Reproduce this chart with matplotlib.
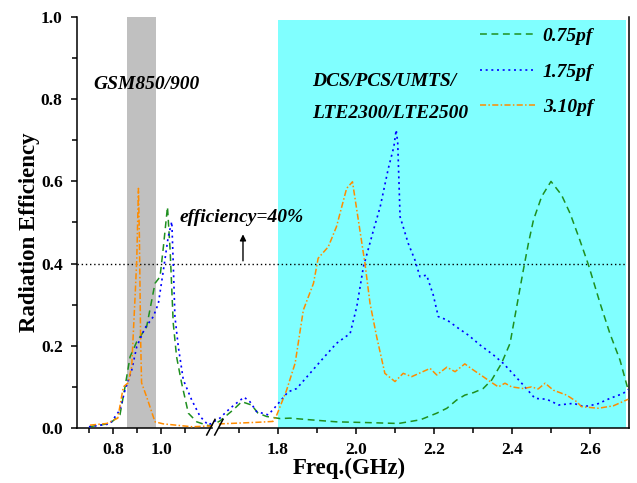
import numpy as np
import matplotlib
matplotlib.use('Agg')
import matplotlib.pyplot as plt

plt.rcParams['font.family'] = ['Liberation Serif', 'DejaVu Serif']
plt.rcParams['font.weight'] = 'bold'

# 0.75pf
f_075 = [0.70, 0.787, 0.829, 0.85, 0.871, 0.899, 0.94, 0.975, 0.996, 1.01, 1.027, 1.038,
         1.051, 1.065, 1.086, 1.114, 1.149, 1.19, 1.205,
         1.651, 1.685, 1.707, 1.732, 1.749, 1.771, 1.805, 1.831, 1.882, 1.95, 2.036, 2.109,
         2.165, 2.207, 2.233, 2.258, 2.279, 2.301, 2.326, 2.348, 2.373, 2.395, 2.412, 2.429,
         2.442, 2.455, 2.476, 2.50, 2.527, 2.549, 2.574, 2.596, 2.626, 2.651, 2.677, 2.698]
e_075 = [0.003, 0.011, 0.032, 0.10, 0.173, 0.21, 0.246, 0.352, 0.368, 0.441, 0.538, 0.433,
         0.255, 0.173, 0.109, 0.036, 0.015, 0.007, 0.005,
         0.017, 0.044, 0.064, 0.056, 0.036, 0.028, 0.023, 0.024, 0.02, 0.015, 0.013, 0.011,
         0.02, 0.036, 0.048, 0.068, 0.08, 0.086, 0.096, 0.117, 0.157, 0.206, 0.295, 0.384,
         0.449, 0.506, 0.563, 0.60, 0.567, 0.522, 0.457, 0.397, 0.303, 0.23, 0.165, 0.092]
# 1.75pf
f_175 = [0.70, 0.787, 0.829, 0.85, 0.878, 0.899, 0.933, 0.968, 0.989, 1.01, 1.03, 1.045,
         1.051, 1.058, 1.072, 1.093, 1.128, 1.163, 1.197,
         1.651, 1.668, 1.685, 1.713, 1.728, 1.745, 1.775, 1.792, 1.826, 1.848, 1.882, 1.916,
         1.95, 1.985, 2.002, 2.019, 2.045, 2.062, 2.083, 2.097, 2.103, 2.107, 2.113, 2.134,
         2.151, 2.164, 2.181, 2.198, 2.211, 2.233, 2.262, 2.288, 2.318, 2.352, 2.378, 2.421,
         2.459, 2.489, 2.52, 2.558, 2.584, 2.618, 2.651, 2.685, 2.698]
e_175 = [0.003, 0.01, 0.044, 0.092, 0.141, 0.198, 0.243, 0.271, 0.303, 0.384, 0.465, 0.502,
         0.40, 0.271, 0.198, 0.117, 0.068, 0.028, 0.007,
         0.024, 0.04, 0.054, 0.075, 0.064, 0.04, 0.032, 0.05, 0.088, 0.096, 0.133, 0.17,
         0.206, 0.23, 0.295, 0.392, 0.482, 0.538, 0.632, 0.684, 0.725, 0.693, 0.514, 0.449,
         0.409, 0.368, 0.372, 0.324, 0.271, 0.263, 0.243, 0.226, 0.202, 0.178, 0.157, 0.113,
         0.072, 0.07, 0.056, 0.06, 0.052, 0.058, 0.072, 0.084, 0.094]
# 3.10pf
f_310 = [0.704, 0.774, 0.82, 0.843, 0.863, 0.878, 0.892, 0.899, 0.906, 0.91, 0.915, 0.919,
         0.94, 0.975, 1.01, 1.13, 1.205,
         1.651, 1.70, 1.75, 1.787, 1.797, 1.822, 1.844, 1.865, 1.891, 1.903, 1.929, 1.95,
         1.976, 1.991, 2.006, 2.023, 2.036, 2.053, 2.074, 2.10, 2.121, 2.143, 2.19, 2.207,
         2.233, 2.254, 2.279, 2.301, 2.326, 2.344, 2.365, 2.382, 2.399, 2.429, 2.45, 2.467,
         2.485, 2.506, 2.54, 2.566, 2.578, 2.621, 2.66, 2.698]
e_310 = [0.007, 0.011, 0.024, 0.10, 0.11, 0.15, 0.32, 0.41, 0.583, 0.465, 0.22, 0.11,
         0.076, 0.015, 0.01, 0.003, 0.005,
         0.01, 0.012, 0.014, 0.016, 0.032, 0.092, 0.158, 0.287, 0.352, 0.413, 0.441, 0.49,
         0.583, 0.599, 0.506, 0.40, 0.303, 0.222, 0.133, 0.113, 0.133, 0.125, 0.145, 0.129,
         0.148, 0.137, 0.156, 0.141, 0.125, 0.113, 0.10, 0.109, 0.10, 0.096, 0.10, 0.095,
         0.109, 0.092, 0.08, 0.064, 0.052, 0.048, 0.054, 0.07]

labels = ['0.75pf', '1.75pf', '3.10pf']
xticks_major = [0.8, 1.0, 1.8, 2.0, 2.2, 2.4, 2.6]
xticks_minor = [0.7, 0.9, 1.1, 1.7, 1.9, 2.1, 2.3, 2.5]

# broken axis: two linear pieces (0.65-1.208 and 1.644-2.7) joined by a tiny gap
fnodes = [0.0, 1.2083, 1.6436, 5.0]
pnodes = [-79.0, 211.0, 217.0, 1526.0]
def fwd(x):
    return np.interp(x, fnodes, pnodes)
def inv(p):
    return np.interp(p, pnodes, fnodes)

fig = plt.figure(figsize=(6.37, 4.83), dpi=100)
ax = fig.add_axes([77/637, 55/483, 552/637, 411/483])
ax.set_xscale('function', functions=(fwd, inv))
ax.set_xlim(0.65, 2.7)
ax.set_ylim(0, 1.0)

ax.axvspan(0.858, 0.979, color='#c0c0c0', lw=0, zorder=0)
ax.axvspan(1.8, 2.692, ymax=0.993, color='#80ffff', lw=0, zorder=0)
ax.axhline(0.4, xmax=0.9946, color='k', ls=(0, (1, 2)), lw=1.0, zorder=1)

ax.plot(f_075, e_075, color='#1f8f1f', ls=(0, (4.5, 3)), lw=1.1, label=labels[0], zorder=3)
ax.plot(f_175, e_175, color='#0000ff', ls=(0, (1.2, 2.2)), lw=1.2, label=labels[1], zorder=3)
ax.plot(f_310, e_310, color='#ff8c00', ls=(0, (4, 1.5, 1, 1.5)), lw=1.1, label=labels[2], zorder=3)

ax.set_xticks(xticks_major)
ax.set_xticklabels(['%.1f' % t for t in xticks_major])
ax.set_xticks(xticks_minor, minor=True)
ax.set_yticks(np.arange(0, 1.01, 0.2))
ax.set_yticklabels(['%.1f' % t for t in np.arange(0, 1.01, 0.2)])
ax.set_yticks(np.arange(0.1, 1.0, 0.2), minor=True)
ax.tick_params(which='both', direction='out', width=1.1, labelsize=12.5, top=False, right=False)
ax.tick_params(axis='x', which='both', pad=6)
ax.tick_params(axis='y', which='both', pad=6)
ax.tick_params(which='major', length=4.3)
ax.tick_params(which='minor', length=3.5)
ax.spines['top'].set_visible(False)
for s in ['left', 'bottom', 'right']:
    ax.spines[s].set_linewidth(1.1)

ax.set_xlabel('Freq.(GHz)', fontsize=16.5, fontweight='bold')
ax.xaxis.set_label_coords(0.4937, -0.072)
ax.set_ylabel('Radiation Efficiency', fontsize=16.5, fontweight='bold')
ax.yaxis.set_label_coords(-0.067, 0.477)

# axis break marks
ax.add_patch(plt.Rectangle((0.2455, -0.01), 0.009, 0.02, transform=ax.transAxes,
                           color='white', clip_on=False, zorder=5))
for dx in [0.0, 0.0145]:
    ax.plot([0.235 + dx, 0.25 + dx], [-0.017, 0.021], color='k', lw=1.1,
            transform=ax.transAxes, clip_on=False, zorder=6)

tkw = dict(transform=ax.transAxes, fontsize=14, fontweight='bold', style='italic', va='center')
ax.text(0.029, 0.835, 'GSM850/900', **tkw)
ax.text(0.4257, 0.842, 'DCS/PCS/UMTS/', **tkw)
ax.text(0.4257, 0.766, 'LTE2300/LTE2500', **tkw)
ax.text(0.1866, 0.511, 'efficiency=40%', **tkw)
ax.annotate('', xy=(0.3007, 0.478), xytext=(0.3007, 0.40), xycoords='axes fraction',
            arrowprops=dict(arrowstyle='-|>', color='k', lw=1.0, mutation_scale=9))

ax.legend(loc='upper left', bbox_to_anchor=(0.730, 0.975), frameon=False,
          prop=dict(size=14, weight='bold', style='italic'), handlelength=2.83,
          handletextpad=0.4, labelspacing=0.93, borderpad=0, borderaxespad=0)

fig.savefig('out.png', dpi=100)
